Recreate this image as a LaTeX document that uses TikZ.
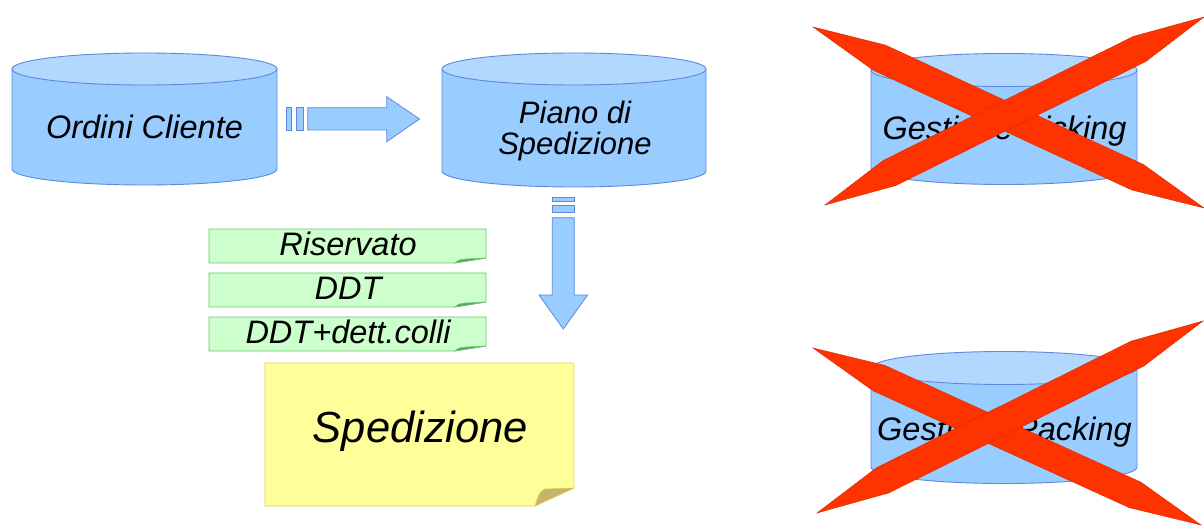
\documentclass[tikz,border=0pt]{standalone}
\usepackage{fontspec}
\setmainfont{Liberation Sans}
\usetikzlibrary{calc}
\definecolor{cylblue}{RGB}{153,204,255}
\definecolor{cyltopc}{RGB}{178,216,255}
\definecolor{cylline}{RGB}{95,135,225}
\definecolor{notegreen}{RGB}{204,255,204}
\definecolor{notegreenline}{RGB}{110,195,110}
\definecolor{notegreenfold}{RGB}{95,170,95}
\definecolor{noteyellow}{RGB}{255,255,153}
\definecolor{noteyellowline}{RGB}{235,205,90}
\definecolor{noteyellowfold}{RGB}{195,182,105}
\definecolor{xred}{RGB}{255,51,0}
\definecolor{xredline}{RGB}{215,40,0}
\newcommand\dbcyl[5]{%
  \fill[cylblue] (#1-#4,#2) -- (#1-#4,#3) arc[start angle=180,end angle=360,x radius=#4pt,y radius=#5pt] -- (#1+#4,#2) -- cycle;
  \draw[cyledge] (#1-#4,#2) -- (#1-#4,#3) arc[start angle=180,end angle=360,x radius=#4pt,y radius=#5pt] -- (#1+#4,#2);
  \filldraw[cyledge,fill=cyltopc] (#1,#2) ellipse[x radius=#4pt,y radius=#5pt];
}
\newcommand\redstroke[3]{%
  \filldraw[xstroke] (#1)
    -- ($(#1)!0.17!(#2)!#3!90:(#2)$)
    -- ($(#1)!0.83!(#2)!#3!90:(#2)$)
    -- (#2)
    -- ($(#1)!0.83!(#2)!#3!-90:(#2)$)
    -- ($(#1)!0.17!(#2)!#3!-90:(#2)$)
    -- cycle;
}
\tikzset{
  cyledge/.style={draw=cylline, line width=0.9pt},
  barrow/.style={fill=cylblue, draw=cylline, line width=0.8pt},
  lbl/.style={font=\itshape\fontsize{32.5}{31}\selectfont, inner sep=0pt, anchor=base, text=black},
  greennote/.style={fill=notegreen, draw=notegreenline, line width=0.8pt},
  greenfold/.style={fill=notegreenfold, draw=notegreenline, line width=0.5pt},
  yellownote/.style={fill=noteyellow, draw=noteyellowline, line width=0.8pt},
  yellowfold/.style={fill=noteyellowfold, draw=noteyellowline, line width=0.5pt},
  xstroke/.style={fill=xred, draw=xredline, line width=0.4pt, line join=miter},
}
\begin{document}
\begin{tikzpicture}[x=1pt,y=-1pt]
\useasboundingbox (0,0) rectangle (1204,526);
\fill[white] (0,0) rectangle (1204,526);

% cylinders
\dbcyl{144.5}{69}{169}{132.5}{16}
\dbcyl{574}{69}{171}{132}{16}
\dbcyl{1004}{70}{168}{133}{16.5}
\dbcyl{1004}{368}{467}{133}{16.5}

\node[lbl] (ordini) at (144.5,139) {Ordini Cliente};
\node[font=\itshape\fontsize{31}{31}\selectfont, inner sep=0pt, align=center, text=black] (piano) at (575,131) {Piano di\\Spedizione};
\node[lbl] (picking) at (1004.5,140) {Gestione Picking};
\node[lbl] (packing) at (1004.5,440) {Gestione Packing};

% horizontal block arrow
\coordinate (h1) at (286.7,119);
\coordinate (h2) at (419.5,119);
\draw[barrow] ($(h1)+(0,-11.3)$) rectangle ($(h1)+(5,11)$);
\draw[barrow] ($(h1)+(9.3,-11.3)$) rectangle ($(h1)+(16.6,11)$);
\draw[barrow] ($(h1)+(21,-11.3)$) -- (386.7,107.7) -- (386.7,96.7) -- (h2)
  -- (386.7,141.7) -- (386.7,130) -- ($(h1)+(21,11)$) -- cycle;

% vertical block arrow
\coordinate (v1) at (563.3,197.3);
\coordinate (v2) at (563.3,329);
\draw[barrow] ($(v1)+(-11,0)$) rectangle ($(v1)+(11,3.7)$);
\draw[barrow] ($(v1)+(-11,7.7)$) rectangle ($(v1)+(11,15)$);
\draw[barrow] ($(v1)+(-11,20.4)$) -- (552.3,295) -- (539,295) -- (v2)
  -- (587.6,295) -- (574.3,295) -- ($(v1)+(11,20.4)$) -- cycle;

% green notes
\draw[greennote] (209,229) -- (486,229) -- (486,258) -- (455,263) -- (209,263) -- cycle;
\draw[greenfold] (455,263) .. controls (458,260) .. (466,259) -- (486,258) -- cycle;
\node[lbl] (riservato) at (348,256) {Riservato};

\draw[greennote] (209,273) -- (486,273) -- (486,302) -- (455,307) -- (209,307) -- cycle;
\draw[greenfold] (455,307) .. controls (458,304) .. (466,303) -- (486,302) -- cycle;
\node[lbl] (ddt) at (348,300) {DDT};

\draw[greennote] (209,317) -- (486,317) -- (486,346) -- (455,351) -- (209,351) -- cycle;
\draw[greenfold] (455,351) .. controls (458,348) .. (466,347) -- (486,346) -- cycle;
\node[lbl] (ddtcolli) at (348,344) {DDT+dett.colli};

% yellow note
\draw[yellownote] (265,363) -- (574,363) -- (574,488) -- (535,506) -- (265,506) -- cycle;
\draw[yellowfold] (535,506) .. controls (538,496) and (540,490) .. (545,489) -- (574,488) -- cycle;
\node[lbl, font=\itshape\fontsize{43.5}{44}\selectfont] (spedizione) at (420.5,442) {Spedizione};

% red crosses
\redstroke{813,27}{1204,208}{14pt}
\redstroke{825,205}{1204,17}{14pt}
\redstroke{813,348}{1201,525}{14pt}
\redstroke{817,513}{1203,321}{14pt}
\end{tikzpicture}
\end{document}
